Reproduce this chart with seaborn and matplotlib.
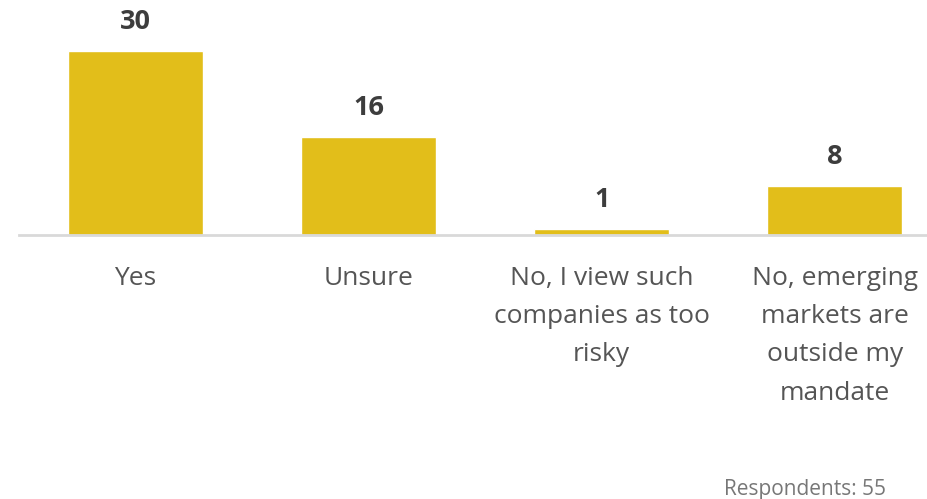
import matplotlib
matplotlib.use("Agg")
import matplotlib.pyplot as plt
import seaborn as sns
import pandas as pd

categories = [
    "Yes",
    "Unsure",
    "No, I view such\ncompanies as too\nrisky",
    "No, emerging\nmarkets are\noutside my\nmandate",
]
values = [30, 16, 1, 8]
footnote = "Respondents: 55"

bar_color = "#E2BE1A"
value_color = "#3D3D3D"
label_color = "#555555"

sns.set_theme(style="white")
plt.rcParams["font.family"] = ["Open Sans", "DejaVu Sans"]

df = pd.DataFrame({"category": categories, "value": values})

fig = plt.figure(figsize=(9.28, 4.99), dpi=100)
ax = fig.add_axes([0.0205, 0.529, 0.9795, 0.471])

sns.barplot(data=df, x="category", y="value", color=bar_color,
            width=0.58, saturation=1, ax=ax)

ax.set_xlim(-0.5, 3.40)
ax.set_ylim(0, 38.3)

for i, v in enumerate(values):
    ax.annotate(str(v), (i, v), xytext=(0, 20.5), textcoords="offset points",
                ha="center", va="center", fontsize=19.5, fontweight="bold",
                color=value_color)

for s in ["top", "right", "left"]:
    ax.spines[s].set_visible(False)
ax.spines["bottom"].set_color("#D9D9D9")
ax.spines["bottom"].set_linewidth(2)

ax.set_yticks([])
ax.set_xlabel("")
ax.set_ylabel("")
ax.tick_params(axis="x", length=0, pad=22.5)
for t in ax.get_xticklabels():
    t.set_fontsize(19)
    t.set_color(label_color)
    t.set_linespacing(1.69)

fig.text(886 / 928, 1 - 489 / 499, footnote, ha="right", va="center",
         fontsize=15, color="#777777")

fig.savefig("out.png", dpi=100, facecolor="white")
